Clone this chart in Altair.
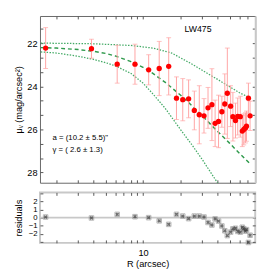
import altair as alt
import pandas as pd

# ---- data ----
R = [1.64, 3.84, 6.19, 8.61, 11.1, 13.5, 16.1, 18.6, 20.9, 23.3, 25.9, 28.4, 31.0, 33.4, 35.9, 38.1,
     40.6, 43.2, 45.6, 47.8, 50.8, 53.0, 55.6, 58.0, 60.8, 63.1, 64.9, 66.9, 68.2, 70.7, 72.9]
MU = [22.22, 22.25, 22.97, 22.97, 23.23, 23.17, 23.07, 24.55, 24.62, 24.58, 25.12, 25.32, 25.37, 25.0,
      24.85, 25.72, 25.63, 25.18, 24.82, 24.32, 24.92, 25.41, 25.59, 25.40, 25.41, 26.08, 26.0, 25.93,
      25.85, 24.55, 25.37]
ERR = [0.95, 0.44, 0.88, 0.93, 0.70, 1.26, 1.33, 0.99, 0.98, 0.88, 0.90, 1.35, 0.80, 0.95, 1.67, 1.08,
       1.22, 0.72, 1.40, 2.10, 0.95, 1.13, 0.81, 0.86, 0.95, 0.72, 0.72, 0.70, 0.70, 0.70, 0.68]
RES = [0.08, -0.04, 0.41, 0.12, 0.0, -0.40, -0.84, 0.41, 0.20, -0.12, 0.20, 0.20, 0.08, -0.60, -0.92,
       -0.16, -0.43, -1.04, -1.64, -2.24, -1.81, -1.40, -1.33, -1.72, -1.81, -1.20, -1.40, -1.69, -1.50,
       -3.10, -2.20]

MODEL_R = [1.5, 2, 3, 4, 5, 6, 8, 10, 12, 15, 20, 25, 30, 40, 50, 60, 73]
MODEL_MU = [22.20, 22.22, 22.29, 22.37, 22.47, 22.59, 22.85, 23.12, 23.40, 23.80, 24.40, 24.92, 25.37,
            26.10, 26.65, 27.12, 27.60]
UPPER_R = [1.5, 4, 8, 12, 17, 24, 30, 40, 50, 60, 71]
UPPER_MU = [21.99, 22.02, 22.10, 22.22, 22.45, 22.92, 23.25, 23.68, 24.02, 24.30, 24.50]
LOWER_R = [1.5, 2, 3, 4, 5, 6, 8, 10, 12, 15, 20, 25, 30, 40, 50]
LOWER_MU = [22.40, 22.45, 22.60, 22.75, 22.90, 23.05, 23.40, 23.85, 24.35, 25.00, 26.00, 26.75, 27.40,
            28.50, 29.30]

X_TICKS = [2, 3, 4, 5, 6, 7, 8, 9, 10, 20, 30, 40, 50, 60, 70]
X_LABELS = [10]
Y_TICKS = [21.333, 22, 22.667, 23.333, 24, 24.667, 25.333, 26, 26.667, 27.333, 28]
Y_LABELS = [22, 24, 26, 28]
RES_TICKS = [-3, -2, -1, 0, 1, 2, 3]
RES_LABELS = [-2, -1, 0, 1, 2]
ZERO = [0]

NAME = "LW475"
FIT_A = "a = (10.2 \u00b1  5.5)\""
FIT_G = "\u03b3 = ( 2.6 \u00b1  1.3)"
Y_TITLE = "\u03bc\u1d65 (mag/arcsec\u00b2)"

# ---- layout / style ----
W, H1, H2 = 222, 172, 52
DARK = "#555555"
LIGHT = "#c8c8c8"
FONT = "Liberation Sans"

pts = pd.DataFrame({"R": R, "mu": MU, "err": ERR, "res": RES})
pts["lo"] = pts["mu"] - pts["err"]
pts["hi"] = pts["mu"] + pts["err"]
model = pd.DataFrame({"R": MODEL_R, "mu": MODEL_MU})
upper = pd.DataFrame({"R": UPPER_R, "mu": UPPER_MU})
lower = pd.DataFrame({"R": LOWER_R, "mu": LOWER_MU})
zero = pd.DataFrame({"z": ZERO})

xs = alt.Scale(type="log", domain=[1.477, 80.2], nice=False)
ys = alt.Scale(domain=[20.73, 28.48], reverse=True, nice=False, zero=False)
rs = alt.Scale(domain=[-3.15, 3.15], nice=False, zero=False)


def inward(orient, off, values):
    return alt.Axis(orient=orient, offset=-off, values=values, labels=False, title=None,
                    tickSize=3, tickColor=DARK, tickWidth=1, domain=False, grid=False)


y_lab = alt.Axis(orient="left", values=Y_LABELS, ticks=False, domain=False, grid=False,
                 labelFont=FONT, labelFontSize=9.5, labelColor="black", labelPadding=3,
                 title=Y_TITLE, titleFont=FONT, titleFontSize=9.5, titleFontWeight="normal",
                 titleColor="black", titlePadding=4)

lower_line = alt.Chart(lower).mark_line(color="#44aa66", strokeWidth=1.3, strokeDash=[1.5, 1.5], clip=True).encode(
    x=alt.X("R:Q", scale=xs, axis=inward("top", H1, X_TICKS)),
    y=alt.Y("mu:Q", scale=ys, axis=y_lab),
)
upper_line = alt.Chart(upper).mark_line(color="#44aa66", strokeWidth=1.3, strokeDash=[1.5, 1.5], clip=True).encode(
    x=alt.X("R:Q", scale=xs, axis=inward("bottom", H1, X_TICKS)),
    y=alt.Y("mu:Q", scale=ys, axis=inward("right", W, Y_TICKS)),
)
right_axis = alt.Axis(orient="left", offset=-W, values=Y_TICKS, labels=False, title=None, tickSize=3,
                      tickColor=DARK, domain=True, domainColor=LIGHT, domainWidth=2, grid=False)
model_line = alt.Chart(model).mark_line(color="#2f9a4c", strokeWidth=1.5, strokeDash=[4, 3], clip=True).encode(
    x=alt.X("R:Q", scale=xs, axis=None),
    y=alt.Y("mu:Q", scale=ys, axis=right_axis),
)
bars = alt.Chart(pts).mark_rule(color="#ffa3a3", strokeWidth=1).encode(
    x=alt.X("R:Q", scale=xs, axis=None),
    y=alt.Y("lo:Q", scale=ys, axis=None),
    y2="hi:Q",
)
cap_lo = alt.Chart(pts).mark_tick(color="#ffa3a3", orient="horizontal", size=5, thickness=1).encode(
    x=alt.X("R:Q", scale=xs, axis=None),
    y=alt.Y("lo:Q", scale=ys, axis=None),
)
cap_hi = alt.Chart(pts).mark_tick(color="#ffa3a3", orient="horizontal", size=5, thickness=1).encode(
    x=alt.X("R:Q", scale=xs, axis=None),
    y=alt.Y("hi:Q", scale=ys, axis=None),
)
dots = alt.Chart(pts).mark_circle(color="#ff0000", size=30, opacity=1).encode(
    x=alt.X("R:Q", scale=xs, axis=None),
    y=alt.Y("mu:Q", scale=ys, axis=None),
)
labels = pd.DataFrame({"t": [NAME, FIT_A, FIT_G]})
name_txt = alt.Chart(pd.DataFrame({"t": [NAME]})).mark_text(
    font=FONT, fontSize=9, align="center", baseline="middle", color="black").encode(
    text="t:N", x=alt.value(163), y=alt.value(13.5))
fit_a = alt.Chart(pd.DataFrame({"t": [FIT_A]})).mark_text(
    font=FONT, fontSize=8, align="left", baseline="middle", color="black").encode(
    text="t:N", x=alt.value(13), y=alt.value(126))
fit_g = alt.Chart(pd.DataFrame({"t": [FIT_G]})).mark_text(
    font=FONT, fontSize=8, align="left", baseline="middle", color="black").encode(
    text="t:N", x=alt.value(13), y=alt.value(138.5))

top = alt.layer(lower_line, upper_line, model_line, bars, cap_lo, cap_hi, dots, name_txt, fit_a, fit_g).resolve_axis(
    x="independent", y="independent").properties(
    width=W, height=H1, view=alt.ViewBackground(stroke="#666666", strokeWidth=1))

# residual panel
x_lab = alt.Axis(orient="bottom", values=X_LABELS, ticks=False, domain=False, grid=False,
                 labelFont=FONT, labelFontSize=9.5, labelColor="black", labelPadding=5,
                 title="R (arcsec)", titleFont=FONT, titleFontSize=9.5, titleFontWeight="normal",
                 titleColor="black", titlePadding=2)
r_lab = alt.Axis(orient="left", values=RES_LABELS, ticks=False, domain=False, grid=False,
                 labelFont=FONT, labelFontSize=8, labelColor="black", labelPadding=3,
                 title="residuals", titleFont=FONT, titleFontSize=9.5, titleFontWeight="normal",
                 titleColor="black", titlePadding=5)

zero_line = alt.Chart(zero).mark_rule(color=LIGHT, strokeWidth=2).encode(
    y=alt.Y("z:Q", scale=rs, axis=None))
res_box = alt.Chart(pts).mark_point(shape="square", size=22, filled=False, color="#999999", strokeWidth=1).encode(
    x=alt.X("R:Q", scale=xs, axis=x_lab),
    y=alt.Y("res:Q", scale=rs, axis=r_lab),
)
res_x = alt.Chart(pts).mark_point(shape="cross", angle=45, size=16, filled=True, color="#333333").encode(
    x=alt.X("R:Q", scale=xs, axis=inward("top", H2, X_TICKS)),
    y=alt.Y("res:Q", scale=rs, axis=inward("right", W, RES_TICKS)),
)
res_ghost = alt.Chart(pts).mark_point(opacity=0).encode(
    x=alt.X("R:Q", scale=xs, axis=inward("bottom", H2, X_TICKS)),
    y=alt.Y("res:Q", scale=rs, axis=inward("left", W, RES_TICKS)),
)
bottom = alt.layer(zero_line, res_box, res_x, res_ghost).resolve_axis(
    x="independent", y="independent").properties(
    width=W, height=H2, view=alt.ViewBackground(stroke=LIGHT, strokeWidth=2))

chart = alt.vconcat(top, bottom, spacing=7).properties(
    padding={"left": 4, "top": 3, "right": 5, "bottom": 5}
).configure_view(stroke=None)

chart.save("out.html", embed_options={"renderer": "svg", "actions": False})
